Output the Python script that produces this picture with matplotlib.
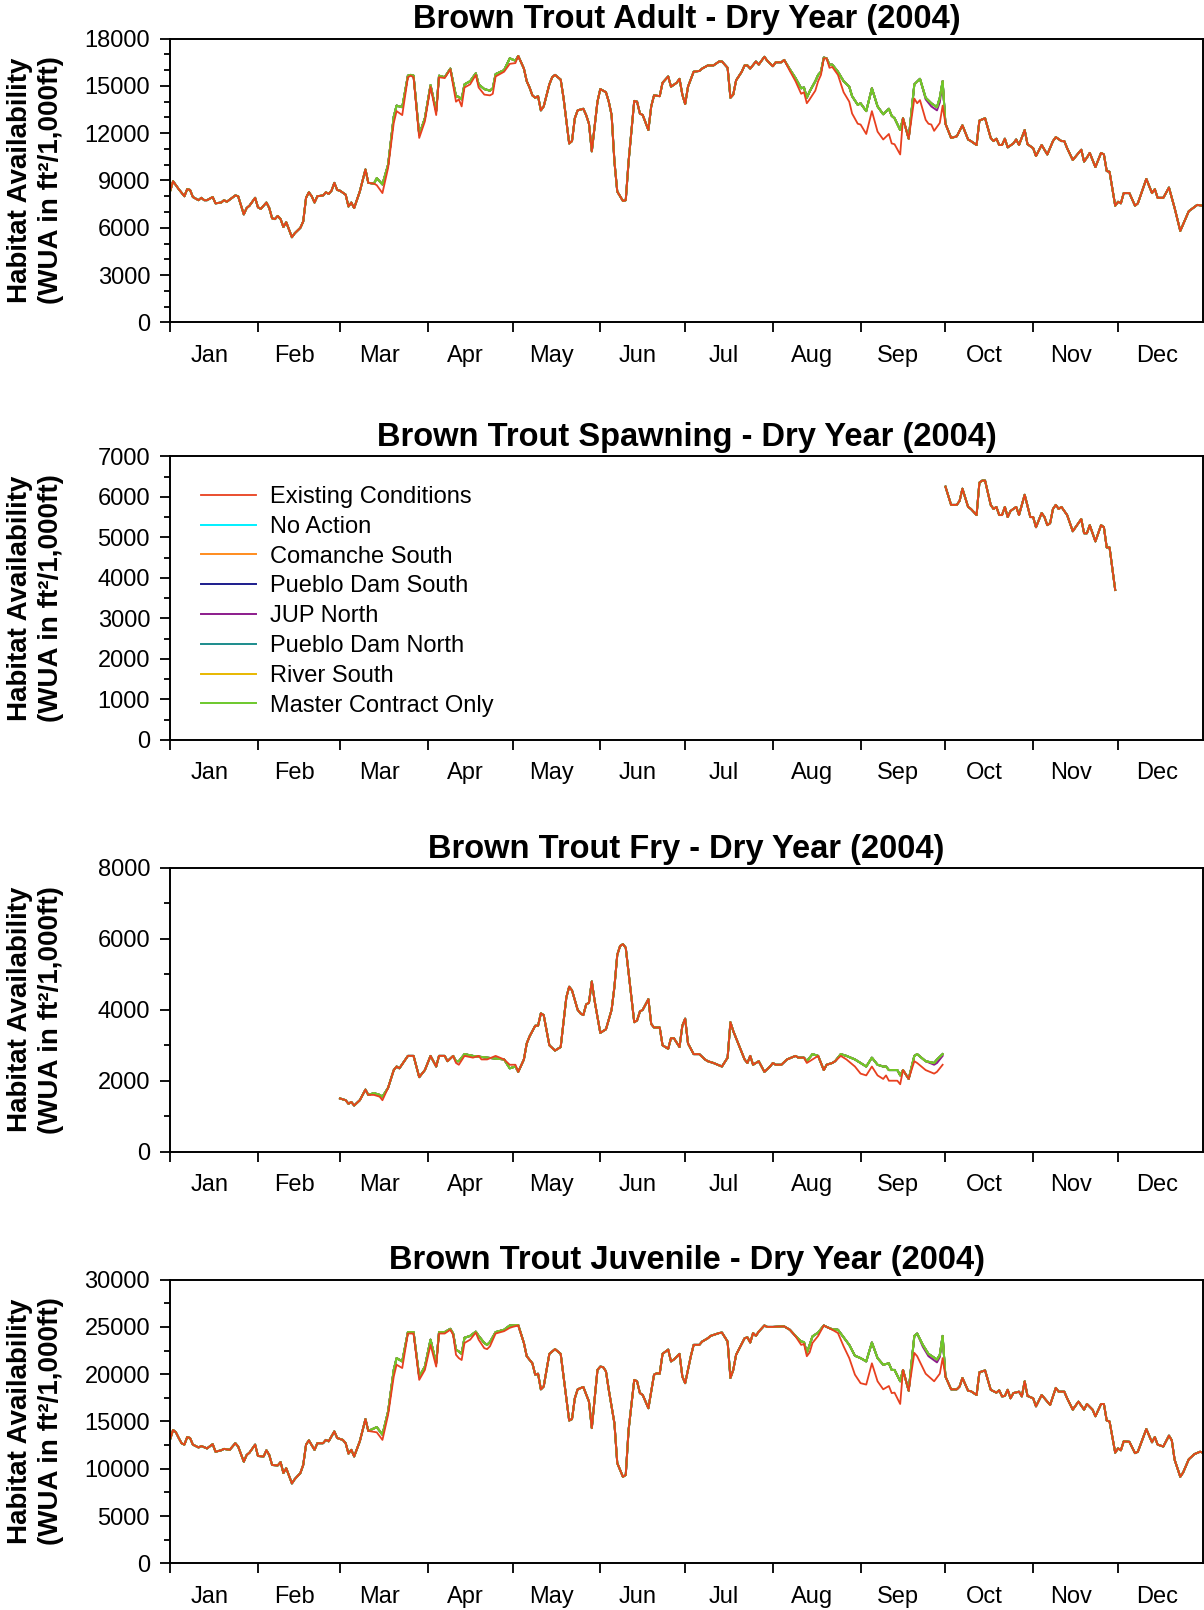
import numpy as np
import matplotlib
matplotlib.use('Agg')
import matplotlib.pyplot as plt
from matplotlib.ticker import MultipleLocator, FixedLocator, NullFormatter, FixedFormatter

plt.rcParams['font.family'] = ['Liberation Sans', 'DejaVu Sans']

# ---- axis labels / categories ----
months = ['Jan', 'Feb', 'Mar', 'Apr', 'May', 'Jun', 'Jul', 'Aug', 'Sep', 'Oct', 'Nov', 'Dec']
month_starts = [0, 31, 60, 91, 121, 152, 182, 213, 244, 274, 305, 335, 366]  # 2004 is a leap year
series_names = ['Existing Conditions', 'No Action', 'Comanche South', 'Pueblo Dam South',
                'JUP North', 'Pueblo Dam North', 'River South', 'Master Contract Only']
series_colors = ['#e8401f', '#00f0ff', '#ff8c1e', '#1c1c8c', '#8c1c8c', '#1c8c8c', '#e8b800', '#6cc82c']

# ---- Adult (day of year, WUA) ----
adult_days = [0, 1, 3, 5, 6, 7, 8, 10, 11, 12, 13, 15, 16, 18, 19, 20, 23, 24, 26, 27, 28, 30, 31, 32,
              34, 35, 36, 37, 38, 39, 40, 41, 43, 44, 46, 47, 48, 49, 50, 51, 52, 54, 55, 56, 57, 58, 59,
              60, 62, 63, 64, 65, 67, 69, 70, 72, 73, 75, 77, 79, 80, 82, 84, 85, 86, 88, 90, 92, 94, 95,
              97, 99, 101, 102, 103, 104, 106, 108, 109, 111, 113, 114, 115, 118, 120, 122, 123, 125, 126,
              127, 128, 129, 130, 131, 132, 134, 135, 136, 137, 138, 139, 141, 142, 143, 144, 146, 147, 148,
              149, 151, 152, 154, 155, 156, 157, 158, 160, 161, 162, 164, 165, 166, 167, 169, 170, 171, 173,
              174, 176, 177, 179, 180, 181, 182, 183, 185, 187, 188, 190, 192, 194, 195, 197, 198, 199, 200,
              202, 203, 204, 205, 207, 208, 210, 211, 213, 214, 216, 217, 219, 221, 223, 224, 225, 226, 228,
              229, 230, 231, 232, 233, 234, 236, 238, 240, 241, 243, 244, 246, 248, 250, 252, 254, 255, 256,
              258, 259, 261, 263, 264, 265, 267, 268, 269, 270, 272, 273, 274, 276, 278, 280, 282, 283, 285,
              286, 288, 290, 291, 292, 293, 294, 295, 296, 298, 299, 300, 302, 303, 305, 306, 308, 310, 312,
              313, 315, 316, 317, 319, 322, 323, 324, 325, 327, 329, 330, 331, 332, 334, 335, 336, 337, 339,
              341, 342, 345, 347, 348, 349, 351, 353, 355, 357, 360, 363, 365]
adult_existing = [8350, 8950, 8450, 8000, 8450, 8400, 7950, 7750, 7900, 7750, 7750, 7950, 7550, 7600, 7750,
                  7650, 8050, 8000, 6850, 7250, 7400, 7900, 7300, 7200, 7600, 7250, 6600, 6550, 6750, 6550,
                  6050, 6350, 5400, 5650, 6000, 6400, 7900, 8250, 8000, 7600, 8000, 8050, 8250, 8150, 8350,
                  8850, 8400, 8350, 8100, 7350, 7600, 7250, 8300, 9700, 8850, 8800, 8700, 8200, 9800, 12650,
                  13400, 13150, 15550, 15650, 15550, 11700, 12750, 14950, 13150, 15550, 15500, 16050, 14000,
                  14150, 13700, 14900, 15100, 15700, 14900, 14450, 14400, 14500, 15600, 15900, 16400, 16450,
                  16900, 16100, 15300, 14900, 14400, 14250, 14350, 13450, 13700, 15100, 15550, 15700, 15550,
                  15400, 14250, 11350, 11500, 12950, 13450, 13550, 13150, 12600, 10850, 14000, 14800, 14600,
                  14000, 13150, 10200, 8300, 7700, 7750, 10200, 14050, 14000, 13250, 13150, 12200, 13700,
                  14400, 14350, 15200, 15600, 14950, 15200, 15450, 14450, 13850, 14950, 15900, 15950, 16100,
                  16300, 16300, 16550, 16550, 16150, 14250, 14450, 15350, 15900, 16300, 16300, 16100, 16550,
                  16350, 16850, 16600, 16250, 16500, 16500, 16650, 15950, 15300, 14500, 14600, 13900, 14150,
                  14700, 15300, 15700, 16750, 16750, 16150, 16200, 15700, 14600, 14000, 13250, 12600, 12550,
                  11950, 13400, 12100, 11600, 11950, 11350, 11300, 10650, 12950, 11650, 14200, 13900, 14100,
                  12850, 12600, 12550, 12150, 12650, 13750, 12600, 11700, 11800, 12500, 11600, 11500, 11250,
                  12800, 12950, 11700, 11500, 11650, 11250, 11250, 11650, 11100, 11350, 11600, 11250, 12200,
                  11300, 11050, 10550, 11250, 10650, 11500, 11750, 11500, 11500, 11050, 10300, 10950, 10200,
                  10450, 10750, 9850, 10750, 10650, 9600, 9550, 7400, 7650, 7550, 8200, 8200, 7400, 7550, 9100,
                  8200, 8450, 7900, 7900, 8550, 7250, 5800, 7050, 7450, 7400]
# alternatives where they depart from existing conditions
adult_alt_spring_days = [72, 73, 75, 77, 79, 80, 82, 84, 85, 86, 88, 90, 92, 94, 95, 97, 99, 101, 102, 103,
                         104, 106, 108, 109, 111, 113, 114, 115, 118, 120, 122, 123]
adult_alt_spring = [8800, 9150, 8750, 10000, 13050, 13750, 13650, 15650, 15700, 15650, 11900, 12950, 15050,
                    13400, 15650, 15550, 16100, 14350, 14300, 14150, 15100, 15300, 15800, 15100, 14800, 14700,
                    14850, 15750, 16000, 16750, 16600, 16900]
adult_alt_summer_days = [217, 219, 221, 223, 224, 225, 226, 228, 229, 230, 231, 232, 233, 234, 236, 238, 240,
                         241, 243, 244, 246, 248, 250, 252, 254, 255, 256, 258, 259, 261, 263, 265, 267, 269,
                         271, 272, 273, 274]
adult_alt_summer = [16650, 16050, 15500, 14850, 14900, 14250, 14650, 15300, 15700, 15900, 16800, 16750, 16350,
                    16350, 15900, 15300, 14950, 14350, 13800, 13900, 13400, 14850, 13700, 13200, 13550, 13100,
                    12950, 12200, 12950, 11650, 15100, 15450, 14250, 13900, 13650, 14250, 15300, 12600]
adult_jup_days = [267, 269, 271, 272]
adult_jup = [14150, 13700, 13450, 13950]

# ---- Spawning ----
spawn_days = [274, 276, 278, 279, 280, 282, 283, 285, 286, 287, 288, 290, 291, 292, 293, 294, 295, 296, 297,
              299, 300, 302, 304, 305, 306, 308, 309, 310, 311, 312, 313, 314, 315, 317, 319, 320, 322, 323,
              324, 325, 327, 329, 330, 331, 332, 334]
spawn_existing = [6250, 5800, 5800, 5900, 6200, 5750, 5700, 5550, 6350, 6400, 6400, 5800, 5700, 5750, 5550,
                  5550, 5750, 5500, 5650, 5750, 5550, 6050, 5500, 5500, 5250, 5600, 5500, 5300, 5350, 5700,
                  5800, 5700, 5750, 5550, 5150, 5250, 5450, 5100, 5100, 5300, 4900, 5300, 5250, 4750, 4750,
                  3700]

# ---- Fry ----
fry_days = [60, 62, 63, 64, 65, 67, 69, 70, 72, 74, 75, 77, 79, 80, 81, 84, 86, 88, 90, 92, 94, 95, 97, 98,
            100, 101, 102, 104, 107, 109, 110, 112, 115, 118, 120, 122, 123, 125, 126, 127, 129, 130, 131, 132,
            134, 136, 138, 140, 141, 142, 144, 145, 146, 147, 148, 149, 150, 152, 154, 156, 157, 158, 159, 160,
            161, 162, 164, 165, 166, 167, 169, 170, 171, 173, 174, 176, 177, 178, 180, 181, 182, 183, 185, 187,
            189, 190, 192, 195, 197, 198, 199, 201, 203, 204, 205, 206, 208, 210, 212, 213, 214, 216, 218, 221,
            222, 224, 225, 227, 229, 231, 232, 234, 235, 237, 239, 242, 244, 246, 248, 250, 252, 253, 254, 257,
            258, 259, 261, 263, 264, 267, 270, 271, 273]
fry_existing = [1500, 1450, 1350, 1400, 1300, 1450, 1750, 1600, 1600, 1550, 1450, 1800, 2300, 2400, 2350, 2700,
                2700, 2100, 2300, 2700, 2400, 2700, 2700, 2550, 2700, 2500, 2450, 2700, 2650, 2700, 2600, 2600,
                2700, 2600, 2450, 2450, 2250, 2600, 3050, 3250, 3550, 3550, 3900, 3850, 3000, 2850, 2950, 4350,
                4650, 4550, 4000, 3900, 3850, 4150, 4200, 4800, 4250, 3350, 3450, 4000, 4650, 5550, 5800, 5850,
                5750, 5050, 3650, 3700, 3950, 4000, 4300, 3600, 3500, 3500, 3000, 2900, 3200, 3200, 2950, 3550,
                3750, 3050, 2750, 2750, 2600, 2550, 2500, 2400, 2650, 3650, 3400, 3000, 2600, 2500, 2700, 2450,
                2550, 2250, 2400, 2500, 2450, 2450, 2600, 2700, 2650, 2650, 2500, 2600, 2700, 2300, 2450, 2500,
                2550, 2700, 2600, 2400, 2200, 2150, 2400, 2150, 2050, 2150, 2000, 2000, 1900, 2300, 2050, 2550,
                2500, 2300, 2200, 2250, 2450]
fry_alt_spring_days = [72, 74, 75]
fry_alt_spring = [1650, 1600, 1550]
fry_alt_may_days = [101, 102, 104, 107, 112, 118, 120, 122]
fry_alt_may = [2550, 2550, 2750, 2700, 2650, 2600, 2350, 2400]
fry_alt_summer_days = [225, 227, 229, 231, 232, 234, 235, 237, 239, 242, 244, 246, 248, 250, 252, 253, 254,
                       257, 258, 259, 261, 263, 264, 267, 270, 271, 273]
fry_alt_summer = [2550, 2750, 2700, 2300, 2450, 2500, 2550, 2750, 2700, 2600, 2500, 2400, 2650, 2450, 2400,
                  2400, 2300, 2300, 2150, 2300, 2050, 2700, 2750, 2550, 2500, 2600, 2750]
fry_jup_days = [267, 270, 271, 273]
fry_jup = [2550, 2450, 2500, 2700]

# ---- Juvenile ----
juv_days = [0, 1, 2, 3, 4, 5, 6, 7, 8, 10, 11, 13, 15, 16, 18, 19, 21, 23, 24, 26, 27, 28, 30, 31, 33, 34, 35,
            36, 38, 39, 40, 41, 43, 44, 46, 47, 48, 49, 51, 52, 54, 55, 56, 58, 59, 61, 62, 63, 64, 65, 67, 69,
            70, 73, 75, 77, 79, 80, 82, 84, 86, 88, 90, 92, 94, 95, 97, 99, 100, 101, 102, 103, 104, 106, 108,
            109, 111, 112, 113, 115, 118, 120, 121, 123, 125, 126, 128, 129, 130, 131, 132, 134, 136, 138, 141,
            142, 143, 144, 146, 148, 149, 151, 152, 153, 154, 155, 157, 158, 160, 161, 162, 164, 165, 166, 167,
            169, 171, 172, 173, 174, 176, 177, 178, 180, 181, 182, 184, 185, 187, 188, 190, 191, 194, 195, 197,
            198, 199, 200, 203, 204, 205, 206, 207, 208, 210, 211, 213, 216, 217, 219, 221, 223, 224, 225, 226,
            227, 229, 231, 232, 234, 236, 238, 240, 242, 244, 246, 248, 250, 252, 254, 255, 256, 258, 259, 261,
            263, 264, 267, 270, 272, 273, 274, 276, 278, 279, 280, 282, 283, 285, 286, 288, 290, 292, 293, 294,
            295, 296, 297, 298, 300, 301, 302, 303, 305, 306, 308, 309, 311, 313, 314, 316, 317, 319, 321, 323,
            324, 326, 327, 329, 330, 331, 332, 334, 335, 336, 337, 339, 341, 342, 345, 347, 348, 349, 351, 353,
            354, 355, 357, 358, 360, 362, 364, 365]
juv_existing = [13150, 14100, 13850, 13250, 12700, 12550, 13350, 13250, 12550, 12250, 12400, 12150, 12600, 11800,
                11950, 12100, 12000, 12700, 12350, 10750, 11450, 11700, 12550, 11350, 11300, 11950, 11450, 10400,
                10350, 10700, 9550, 10050, 8450, 8900, 9550, 10400, 12550, 13000, 12000, 12700, 12700, 13050,
                12900, 13950, 13250, 13050, 12700, 11600, 12000, 11300, 12900, 15250, 14000, 13850, 13050, 15700,
                19750, 21000, 20650, 24300, 24300, 19400, 20450, 23100, 20800, 24300, 24300, 24700, 24150, 22050,
                21700, 21500, 23300, 23650, 24400, 23650, 22750, 22650, 22950, 24300, 24550, 24900, 25000, 25150,
                23300, 21900, 21150, 19950, 20050, 18400, 18700, 22150, 22650, 22150, 15100, 15250, 17450, 18400,
                18650, 17100, 14300, 20450, 20800, 20750, 20300, 18350, 14800, 10600, 9150, 9350, 14100, 19400,
                19250, 18000, 17800, 16400, 19950, 20100, 20050, 22150, 22600, 21350, 21550, 22150, 19750, 19050,
                21900, 23100, 23100, 23450, 23800, 24050, 24350, 24400, 23450, 19600, 20450, 22050, 23800, 23900,
                23350, 24350, 24050, 24500, 25150, 25000, 25000, 25050, 25050, 24700, 24000, 23100, 23200, 21900,
                22300, 23300, 24050, 25150, 25000, 24700, 24350, 22950, 21700, 19950, 19050, 18900, 21150, 19250,
                18400, 18750, 18000, 18050, 16850, 20450, 18250, 22250, 21900, 20050, 19250, 20050, 21700, 19750,
                18400, 18400, 18700, 19600, 18250, 18200, 17800, 20200, 20400, 18350, 18050, 18300, 17650, 17700,
                18350, 17450, 18000, 18150, 17650, 19250, 17700, 17450, 16600, 17800, 17450, 16750, 18550, 18150,
                18150, 17450, 16250, 17100, 16250, 16850, 16250, 15550, 16850, 16850, 15100, 15000, 11700, 12150,
                11950, 12900, 12850, 11650, 11800, 14200, 12800, 13350, 12550, 12350, 13500, 13000, 10950, 9150,
                9600, 11000, 11550, 11800, 11700]
juv_alt_spring_days = [73, 75, 77, 79, 80, 82, 84, 86, 88, 90, 92, 94, 95, 97, 99, 100, 101, 102, 103, 104, 106,
                       108, 109, 111, 112, 113, 115, 118, 120, 121, 123]
juv_alt_spring = [14400, 13600, 16050, 20450, 21700, 21350, 24450, 24450, 19750, 20800, 23650, 21150, 24450,
                  24450, 24800, 24300, 22600, 22400, 22150, 23850, 24050, 24500, 24050, 23300, 23100, 23400,
                  24450, 24700, 25150, 25150, 25200]
juv_alt_summer_days = [219, 221, 223, 224, 225, 226, 227, 229, 231, 232, 234, 236, 238, 240, 242, 244, 246, 248,
                       250, 252, 254, 255, 256, 258, 259, 261, 263, 264, 266, 268, 271, 272, 273, 274]
juv_alt_summer = [24700, 24050, 23450, 23400, 22250, 23100, 24000, 24400, 25150, 25000, 24750, 24700, 23900,
                  23100, 21950, 21700, 21350, 23350, 21700, 21000, 21150, 20450, 20450, 19250, 20450, 18250,
                  24050, 24300, 23100, 22150, 21550, 22050, 24050, 19750]
juv_jup_days = [266, 268, 271, 272]
juv_jup = [22900, 21900, 21250, 21800]


def with_alt(days, vals, windows):
    # swap in alternative values over each window of days
    pts = dict(zip(days, vals))
    for wd, wv in windows:
        for d in list(pts):
            if wd[0] <= d <= wd[-1]:
                del pts[d]
        pts.update(zip(wd, wv))
    k = sorted(pts)
    return np.array(k), np.array([pts[i] for i in k])


panels = [
    dict(title='Brown Trout Adult - Dry Year (2004)', days=adult_days, base=adult_existing,
         alt=[(adult_alt_spring_days, adult_alt_spring), (adult_alt_summer_days, adult_alt_summer)],
         jup=(adult_jup_days, adult_jup), ymax=18000, major=3000, minor=1000),
    dict(title='Brown Trout Spawning - Dry Year (2004)', days=spawn_days, base=spawn_existing,
         alt=[], jup=None, ymax=7000, major=1000, minor=500),
    dict(title='Brown Trout Fry - Dry Year (2004)', days=fry_days, base=fry_existing,
         alt=[(fry_alt_spring_days, fry_alt_spring), (fry_alt_may_days, fry_alt_may),
              (fry_alt_summer_days, fry_alt_summer)],
         jup=(fry_jup_days, fry_jup), ymax=8000, major=2000, minor=1000),
    dict(title='Brown Trout Juvenile - Dry Year (2004)', days=juv_days, base=juv_existing,
         alt=[(juv_alt_spring_days, juv_alt_spring), (juv_alt_summer_days, juv_alt_summer)],
         jup=(juv_jup_days, juv_jup), ymax=30000, major=5000, minor=2500),
]

fig = plt.figure(figsize=(12.04, 16.10), dpi=100)
left, width, height = 0.1414, 0.8577, 0.1762
bottoms = [0.7998, 0.5404, 0.2847, 0.0290]
# month names sit a little left of mid-month in the original
label_pos = [(month_starts[i] + month_starts[i + 1]) / 2 - 1.7 for i in range(12)]

for p, bot in zip(panels, bottoms):
    ax = fig.add_axes([left, bot, width, height])
    x0, y0 = with_alt(p['days'], p['base'], [])
    xa, ya = with_alt(p['days'], p['base'], p['alt'])
    handles = {}
    for name, col in zip(series_names[1:], series_colors[1:]):
        if name == 'JUP North' and p['jup'] is not None:
            xj, yj = with_alt(p['days'], p['base'], p['alt'] + [p['jup']])
            h, = ax.plot(xj, yj, color=col, lw=1.4)
        else:
            h, = ax.plot(xa, ya, color=col, lw=1.4)
        handles[name] = h
    h, = ax.plot(x0, y0, color=series_colors[0], lw=1.3)
    handles[series_names[0]] = h

    ax.set_xlim(0, 365)
    ax.set_ylim(0, p['ymax'])
    ax.xaxis.set_major_locator(FixedLocator(month_starts[:12]))
    ax.xaxis.set_major_formatter(NullFormatter())
    ax.xaxis.set_minor_locator(FixedLocator(label_pos))
    ax.xaxis.set_minor_formatter(FixedFormatter(months))
    ax.tick_params(axis='x', which='major', direction='out', length=7, width=1.3)
    ax.tick_params(axis='x', which='minor', length=0, pad=16, labelsize=17)
    ax.yaxis.set_major_locator(MultipleLocator(p['major']))
    ax.yaxis.set_minor_locator(MultipleLocator(p['minor']))
    ax.tick_params(axis='y', which='major', direction='out', length=7.5, width=1.3, labelsize=17, pad=7)
    ax.tick_params(axis='y', which='minor', direction='out', length=4.5, width=1.3)
    for s in ax.spines.values():
        s.set_linewidth(1.4)
    ax.set_title(p['title'], fontsize=23.5, fontweight='bold', pad=7.5)
    ax.set_ylabel('Habitat Availability\n(WUA in ft\u00b2/1,000ft)', fontsize=20, fontweight='bold',
                  linespacing=1.22)
    ax.yaxis.set_label_coords(-0.103, 0.5)

    if p['title'].startswith('Brown Trout Spawning'):
        ax.legend([handles[n] for n in series_names], series_names, loc='upper left',
                  bbox_to_anchor=(0.030, 0.895), frameon=False, fontsize=17, handlelength=2.33,
                  handletextpad=0.6, labelspacing=0.33, borderaxespad=0, borderpad=0)

fig.savefig('out.png', dpi=100)
